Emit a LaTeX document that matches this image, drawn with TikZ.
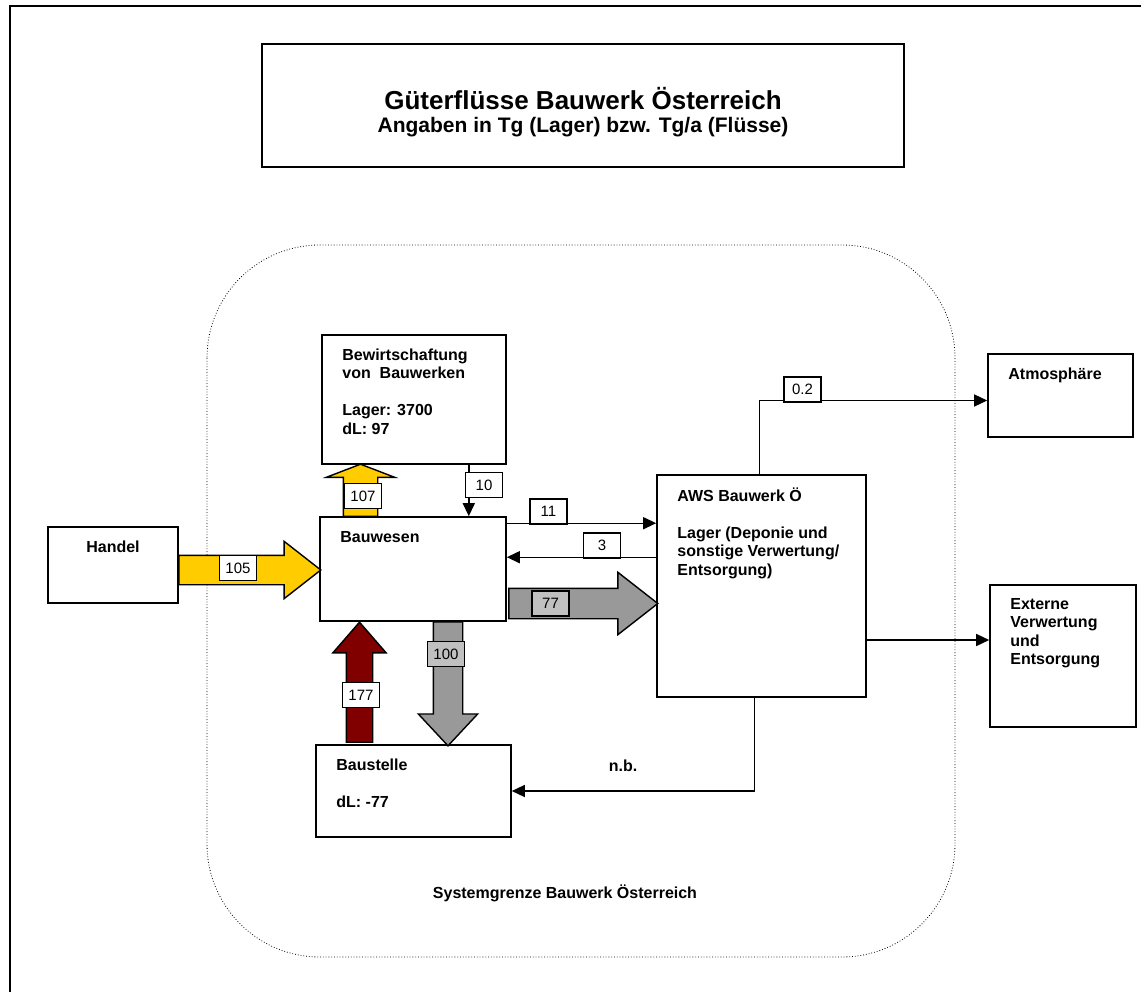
\documentclass[tikz,border=0pt]{standalone}
\usepackage{fontspec}
\setmainfont{Liberation Sans}
\usetikzlibrary{arrows.meta,shapes.arrows}

\definecolor{gelb}{HTML}{FFCC00}
\definecolor{rotbraun}{HTML}{800000}
\definecolor{grau}{HTML}{999999}
\definecolor{hellgrau}{HTML}{C0C0C0}

\begin{document}
\begin{tikzpicture}[x=1pt,y=-1pt,>={Triangle[length=13pt,width=12pt]}]
	\tikzstyle{every node}=[font=\fontsize{16}{18.5}\selectfont\bfseries]
	\tikzstyle{prozess}=[draw,line width=1.6pt,rectangle,inner sep=0pt,fill=white]
	\tikzstyle{beschriftung}=[anchor=north west,align=left,inner sep=0pt]
	\tikzstyle{fluss}=[->,line width=1.4pt]
	\tikzstyle{gut}=[draw,line width=1.4pt,single arrow,anchor=tail,inner sep=0pt,outer sep=0pt,text depth=0pt]
	\tikzstyle{wert}=[draw,fill=white,line width=1.2pt,inner sep=0pt,minimum width=37pt,minimum height=25pt,font=\fontsize{15}{18}\selectfont]

  \useasboundingbox (0,0) rectangle (1141,992);
  \draw[line width=2pt] (10,992) -- (10,6) -- (1141,6);
  \draw[dotted,line width=0.8pt,rounded corners=113pt] (207,245) rectangle (955,957);

  \node[prozess,minimum width=642pt,minimum height=123pt] (titel)     at (583,105.5) {};
  \node[prozess,minimum width=184pt,minimum height=129pt] (bew)       at (414,399.5) {};
  \node[prozess,minimum width=186pt,minimum height=104pt] (bauwesen)  at (413,569)   {};
  \node[prozess,minimum width=130pt,minimum height=76pt]  (handel)    at (113,565)   {};
  \node[prozess,minimum width=195pt,minimum height=92pt]  (baustelle) at (413.5,791) {};
  \node[prozess,minimum width=209pt,minimum height=222pt] (aws)       at (761.5,586) {};
  \node[prozess,minimum width=145pt,minimum height=83pt]  (atmo)      at (1060.5,395.5) {};
  \node[prozess,minimum width=146pt,minimum height=142pt] (ext)       at (1063,656)  {};

  \node[font=\fontsize{26}{30}\selectfont\bfseries,anchor=base] (titel-a) at (583,109.3) {Güterflüsse Bauwerk Österreich};
  \node[font=\fontsize{21}{25}\selectfont\bfseries,anchor=base] (titel-b) at (583,132.5) {Angaben in Tg (Lager) bzw. Tg/a (Flüsse)};

  \node[beschriftung] (bew-t)       at ([shift={(21,13)}]bew.north west)       {\strut Bewirtschaftung\\von~ Bauwerken\\[18.5pt]Lager: 3700\\dL: 97};
  \node[anchor=north,inner sep=0pt] (handel-t) at ([yshift=-13pt]handel.north) {\strut Handel};
  \node[beschriftung] (bauwesen-t)  at ([shift={(21,13)}]bauwesen.north west)  {\strut Bauwesen};
  \node[beschriftung] (baustelle-t) at ([shift={(21,13)}]baustelle.north west) {\strut Baustelle\\[18.5pt]dL: -77};
  \node[beschriftung] (aws-t)       at ([shift={(21,13)}]aws.north west)       {\strut AWS Bauwerk Ö\\[18.5pt]Lager (Deponie und\\sonstige Verwertung/\\Entsorgung)};
  \node[beschriftung] (atmo-t)      at ([shift={(21,13)}]atmo.north west)      {\strut Atmosphäre};
  \node[beschriftung] (ext-t)       at ([shift={(21,12)}]ext.north west)       {\strut Externe\\Verwertung\\und\\Entsorgung};

  % Gueterfluesse
  \node[gut,fill=gelb,text height=28pt,minimum height=142pt,single arrow head extend=14pt,single arrow tip angle=76] (g105) at ([yshift=-5pt]handel.east) {};
  \node[gut,fill=gelb,rotate=90,text height=33pt,minimum height=52pt,single arrow head extend=17pt,single arrow tip angle=138] (g107) at ([xshift=-52.5pt]bauwesen.north) {};
  \node[gut,fill=grau,text height=29pt,minimum height=149pt,single arrow head extend=16pt,single arrow tip angle=76] (g77) at ([shift={(2,34.5)}]bauwesen.east) {};
  \node[gut,fill=rotbraun,rotate=90,text height=25pt,minimum height=120pt,single arrow head extend=13.5pt,single arrow tip angle=82] (g177) at ([shift={(-54,-2)}]baustelle.north) {};
  \node[gut,fill=grau,rotate=-90,text height=28pt,minimum height=124pt,single arrow head extend=15pt,single arrow tip angle=86] (g100) at ([xshift=35pt]bauwesen.south) {};

  % einfache Fluesse
  \coordinate (k10) at ([xshift=-38pt]bew.south east);
  \coordinate (k11) at ([yshift=-7pt]bauwesen.north east);
  \coordinate (k3) at ([yshift=-41pt]bauwesen.north east);
  \coordinate (k02) at ([xshift=103pt]aws.north west);
  \coordinate (kext) at ([yshift=16pt]ext.west);
  \coordinate (knb) at ([xshift=98pt]aws.south west);
  \draw[fluss] (k10) -- (k10 |- bauwesen.north);
  \draw[fluss] (k11) -- (k11 -| aws.west);
  \draw[fluss] (k3 -| aws.west) -- (k3);
  \draw[fluss] (k02) |- ([yshift=-5pt]atmo.west);
  \draw[fluss] (kext -| aws.east) -- (kext);
  \draw[fluss] (knb) |- (baustelle.east);

  \node[wert] (w105) at (238,568) {105};
  \node[wert] (w107) at (363,496) {107};
  \node[wert] (w10) at (484,485) {10};
  \node[wert] (w11) at (548.5,511.5) {11};
  \node[wert] (w3) at (602,545.5) {3};
  \node[wert,fill=hellgrau] (w77) at (550.5,603.5) {77};
  \node[wert,fill=hellgrau] (w100) at (446,654) {100};
  \node[wert] (w177) at (361,695) {177};
  \node[wert] (w02) at (802.5,389.5) {0.2};

  \node[anchor=base] (nb) at (623,771.7) {n.b.};
  \node[anchor=base] (grenze) at (565,898.7) {Systemgrenze Bauwerk Österreich};

\end{tikzpicture}
\end{document}
